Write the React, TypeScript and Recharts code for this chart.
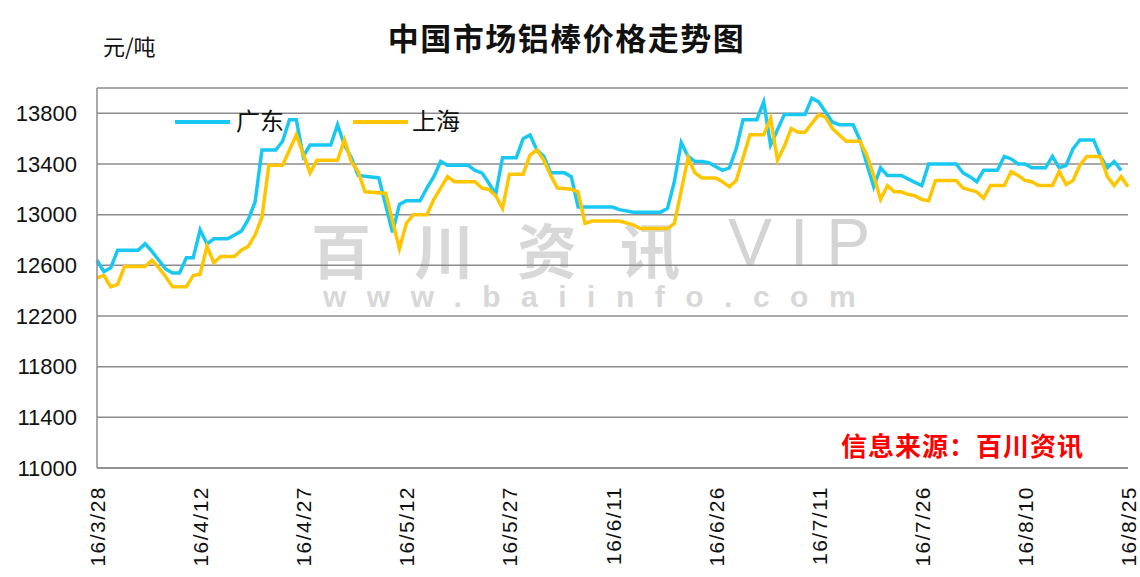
import { CartesianGrid, Line, LineChart, XAxis, YAxis } from "recharts";

// 广东 (Guangdong) aluminium rod price, yuan/ton
const gdDates = [
  "3/28", "3/29", "3/30", "3/31", "4/3", "4/4", "4/5", "4/6", "4/7", "4/8",
  "4/9", "4/10", "4/11", "4/12", "4/13", "4/14", "4/16", "4/17", "4/18", "4/19",
  "4/20", "4/21", "4/23", "4/24", "4/25", "4/26", "4/27", "4/28", "5/1", "5/2",
  "5/3", "5/4", "5/5", "5/8", "5/10", "5/11", "5/12", "5/14", "5/15", "5/16",
  "5/17", "5/18", "5/21", "5/22", "5/23", "5/24", "5/25", "5/26", "5/28", "5/29",
  "5/30", "5/31", "6/1", "6/2", "6/4", "6/5", "6/6", "6/11", "6/12", "6/14",
  "6/18", "6/19", "6/20", "6/21", "6/22", "6/23", "6/24", "6/25", "6/26", "6/27",
  "6/28", "6/29", "6/30", "7/2", "7/3", "7/4", "7/6", "7/9", "7/10", "7/11",
  "7/12", "7/13", "7/14", "7/16", "7/17", "7/18", "7/19", "7/20", "7/21", "7/23",
  "7/25", "7/26", "7/27", "7/31", "8/1", "8/2", "8/3", "8/4", "8/6", "8/7",
  "8/8", "8/9", "8/10", "8/11", "8/13", "8/14", "8/15", "8/16", "8/17", "8/18",
  "8/20", "8/21", "8/22", "8/23", "8/24",
];
const gdPrices = [
  12640, 12550, 12580, 12720, 12720, 12770, 12710, 12640, 12570, 12540,
  12540, 12660, 12660, 12880, 12770, 12810, 12810, 12840, 12870, 12960,
  13100, 13510, 13510, 13580, 13750, 13750, 13460, 13550, 13550, 13710,
  13550, 13450, 13310, 13290, 12860, 13080, 13110, 13110, 13210, 13300,
  13420, 13390, 13390, 13350, 13330, 13250, 13160, 13450, 13450, 13600,
  13630, 13510, 13460, 13330, 13330, 13300, 13060, 13060, 13040, 13020,
  13020, 13050, 13260, 13570, 13460, 13420, 13420, 13410, 13380, 13350,
  13370, 13520, 13750, 13750, 13890, 13550, 13790, 13790, 13920, 13890,
  13810, 13730, 13710, 13710, 13590, 13400, 13220, 13370, 13310, 13310,
  13255, 13230, 13400, 13400, 13330, 13300, 13260, 13350, 13350, 13460,
  13440, 13400, 13400, 13370, 13370, 13460, 13370, 13390, 13520, 13590,
  13590, 13460, 13370, 13420, 13350,
];

// 上海 (Shanghai)
const shDates = [
  "3/28", "3/29", "3/30", "3/31", "4/1", "4/4", "4/5", "4/6", "4/7", "4/8",
  "4/10", "4/11", "4/12", "4/13", "4/14", "4/15", "4/17", "4/18", "4/19", "4/20",
  "4/21", "4/22", "4/24", "4/26", "4/28", "4/29", "5/2", "5/3", "5/4", "5/5",
  "5/6", "5/9", "5/11", "5/12", "5/13", "5/15", "5/16", "5/17", "5/18", "5/19",
  "5/22", "5/23", "5/24", "5/25", "5/26", "5/27", "5/29", "5/30", "5/31", "6/1",
  "6/2", "6/3", "6/5", "6/6", "6/7", "6/8", "6/12", "6/14", "6/15", "6/19",
  "6/20", "6/22", "6/23", "6/24", "6/26", "6/27", "6/28", "6/29", "7/1", "7/3",
  "7/4", "7/5", "7/6", "7/7", "7/8", "7/9", "7/11", "7/12", "7/13", "7/15",
  "7/17", "7/18", "7/19", "7/20", "7/21", "7/22", "7/23", "7/24", "7/25", "7/26",
  "7/27", "7/28", "7/31", "8/1", "8/3", "8/4", "8/5", "8/7", "8/8", "8/9",
  "8/10", "8/11", "8/12", "8/14", "8/15", "8/16", "8/17", "8/18", "8/19", "8/21",
  "8/22", "8/23", "8/24", "8/25",
];
const shPrices = [
  12500, 12520, 12430, 12450, 12590, 12590, 12640, 12580, 12510, 12430,
  12430, 12520, 12530, 12750, 12620, 12670, 12670, 12720, 12750, 12840,
  12980, 13390, 13390, 13630, 13330, 13430, 13430, 13590, 13420, 13340,
  13180, 13170, 12730, 12930, 13000, 13000, 13120, 13210, 13300, 13260,
  13260, 13210, 13200, 13150, 13050, 13320, 13320, 13470, 13510, 13430,
  13310, 13210, 13200, 13180, 12930, 12950, 12950, 12920, 12890, 12890,
  12930, 13450, 13330, 13290, 13290, 13260, 13220, 13270, 13630, 13630,
  13760, 13430, 13540, 13680, 13650, 13650, 13790, 13770, 13680, 13580,
  13580, 13470, 13310, 13120, 13230, 13180, 13180, 13160, 13150, 13120,
  13110, 13270, 13270, 13210, 13180, 13130, 13230, 13230, 13340, 13310,
  13270, 13260, 13230, 13230, 13340, 13240, 13270, 13390, 13460, 13460,
  13300, 13230, 13300, 13220,
];

const xTickDates = ["3/28", "4/12", "4/27", "5/12", "5/27", "6/11", "6/26", "7/11", "7/26", "8/10", "8/25"];
const yTicks = [11000, 11400, 11800, 12200, 12600, 13000, 13400, 13800];

const START = Date.UTC(2016, 2, 28);
const DAY = 86400000;

function dayOf(md: string) {
  const [m, d] = md.split("/").map(Number);
  return Math.round((Date.UTC(2016, m - 1, d) - START) / DAY);
}

function dayLabel(day: number) {
  const dt = new Date(START + day * DAY);
  return `16/${dt.getUTCMonth() + 1}/${dt.getUTCDate()}`;
}

const gdData = gdDates.map((d, i) => ({ day: dayOf(d), price: gdPrices[i] }));
const shData = shDates.map((d, i) => ({ day: dayOf(d), price: shPrices[i] }));
const xTicks = xTickDates.map(dayOf);

const BLUE = "#18c8f2";
const YELLOW = "#ffc600";
const numFont = '"Liberation Sans", Arial, sans-serif';
const cjkFont = '"Noto Sans CJK SC", sans-serif';

function XTick({ x, payload }: any) {
  return (
    <text
      transform={`translate(${x + 8},486) rotate(-90)`}
      textAnchor="end"
      fontSize={21}
      letterSpacing={1.5}
      fontFamily={numFont}
      fill="#111"
    >
      {dayLabel(payload.value)}
    </text>
  );
}

function YTick({ y, payload }: any) {
  return (
    <text x={77} y={y} textAnchor="end" dominantBaseline="central" fontSize={22} fontFamily={numFont} fill="#111">
      {payload.value}
    </text>
  );
}

const abs = (style: React.CSSProperties): React.CSSProperties => ({
  position: "absolute",
  whiteSpace: "nowrap",
  lineHeight: 1,
  ...style,
});

export default function App() {
  return (
    <div style={{ position: "absolute", left: 0, top: 0, width: 1140, height: 577, background: "#fff", overflow: "hidden" }}>
      {/* watermark */}
      <div style={abs({ left: 311, top: 218, fontSize: 60, fontWeight: 700, fontFamily: cjkFont, letterSpacing: 43, color: "#d8d8d8" })}>
        百川资讯
      </div>
      <div style={abs({ left: 728, top: 209, fontSize: 66, fontFamily: numFont, letterSpacing: 18, color: "#d4d4d4" })}>
        VIP
      </div>
      <div style={abs({ left: 323, top: 282, fontSize: 30, fontWeight: 700, fontFamily: numFont, letterSpacing: 20.5, color: "#d8d8d8" })}>
        www.baiinfo.com
      </div>

      <div style={{ position: "absolute", left: 0, top: 0 }}>
        <LineChart width={1140} height={577} margin={{ top: 88, right: 12, bottom: 9, left: 0 }}>
          <CartesianGrid vertical={false} stroke="#8c8c8c" strokeWidth={1.5} />
          <XAxis
            dataKey="day"
            type="number"
            domain={[0, 150]}
            ticks={xTicks}
            interval={0}
            height={100}
            tickLine={false}
            axisLine={{ stroke: "#8c8c8c", strokeWidth: 1.5 }}
            tick={<XTick />}
            allowDuplicatedCategory={false}
          />
          <YAxis
            type="number"
            domain={[11000, 14000]}
            ticks={yTicks}
            interval={0}
            width={97}
            tickLine={false}
            axisLine={{ stroke: "#8c8c8c", strokeWidth: 1.5 }}
            tick={<YTick />}
          />
          <Line
            data={gdData}
            dataKey="price"
            name="广东"
            stroke={BLUE}
            strokeWidth={3.5}
            dot={false}
            isAnimationActive={false}
          />
          <Line
            data={shData}
            dataKey="price"
            name="上海"
            stroke={YELLOW}
            strokeWidth={3.5}
            dot={false}
            isAnimationActive={false}
          />
        </LineChart>
      </div>

      {/* title and unit */}
      <div style={abs({ left: 0, width: 1133, top: 21, textAlign: "center", fontSize: 31, letterSpacing: 1.5, fontWeight: 700, fontFamily: cjkFont, color: "#111" })}>
        中国市场铝棒价格走势图
      </div>
      <div style={abs({ left: 103, top: 34, fontSize: 22, fontFamily: cjkFont, color: "#111" })}>元/吨</div>

      {/* legend */}
      <div style={abs({ left: 175, top: 120, width: 55, height: 4, background: BLUE })} />
      <div style={abs({ left: 236, top: 108, fontSize: 24, fontFamily: cjkFont, color: "#111" })}>广东</div>
      <div style={abs({ left: 353, top: 120, width: 55, height: 4, background: YELLOW })} />
      <div style={abs({ left: 412, top: 108, fontSize: 24, fontFamily: cjkFont, color: "#111" })}>上海</div>

      {/* source */}
      <div style={abs({ left: 841, top: 432, fontSize: 26, letterSpacing: 1, fontWeight: 700, fontFamily: cjkFont, color: "#ff0000" })}>
        信息来源：百川资讯
      </div>
    </div>
  );
}
